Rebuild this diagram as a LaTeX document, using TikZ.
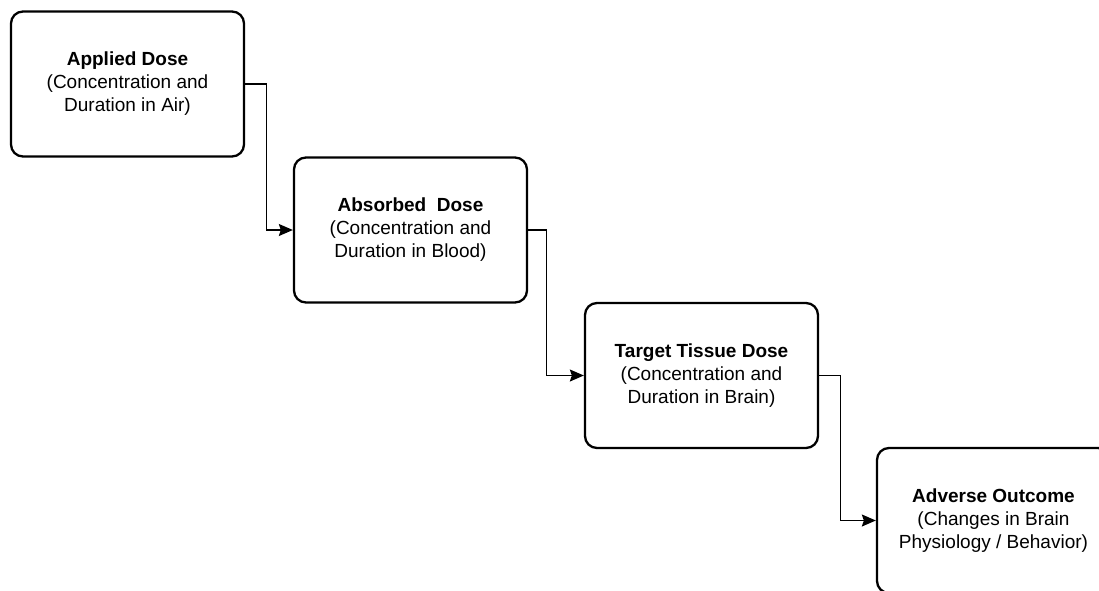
\documentclass[tikz,border=0pt]{standalone}
\usepackage{fontspec}
\setmainfont{Liberation Sans}
\usetikzlibrary{arrows.meta}
\tikzset{
  dosebox/.style={draw, line width=1.15pt, rounded corners=6pt, minimum width=116.5pt,
    minimum height=72.5pt, align=center, inner sep=0pt,
    font=\fontsize{9.5}{11.5}\selectfont},
  flow/.style={line width=0.65pt, >={Stealth[length=7pt,width=6pt,inset=1pt]}, ->},
}
\begin{document}
\begin{tikzpicture}[x=0.5pt,y=-0.5pt]
\useasboundingbox (0,0) rectangle (1099,590);
\clip (0,0) rectangle (1099,590);
\node[dosebox] (applied) at (127.5,84) {\textbf{Applied Dose}\\(Concentration and\\Duration in Air)};
\node[dosebox] (absorbed) at (410.5,230) {\textbf{Absorbed\ \ Dose}\\(Concentration and\\Duration in Blood)};
\node[dosebox] (target) at (701.5,375.5) {\textbf{Target Tissue Dose}\\(Concentration and\\Duration in Brain)};
\node[dosebox] (adverse) at (993.5,520.5) {\textbf{Adverse Outcome}\\(Changes in Brain\\Physiology / Behavior)};
\draw[flow] (applied.east) -- ++(21,0) |- (absorbed.west);
\draw[flow] (absorbed.east) -- ++(18,0) |- (target.west);
\draw[flow] (target.east) -- ++(21,0) |- (adverse.west);
\end{tikzpicture}
\end{document}
